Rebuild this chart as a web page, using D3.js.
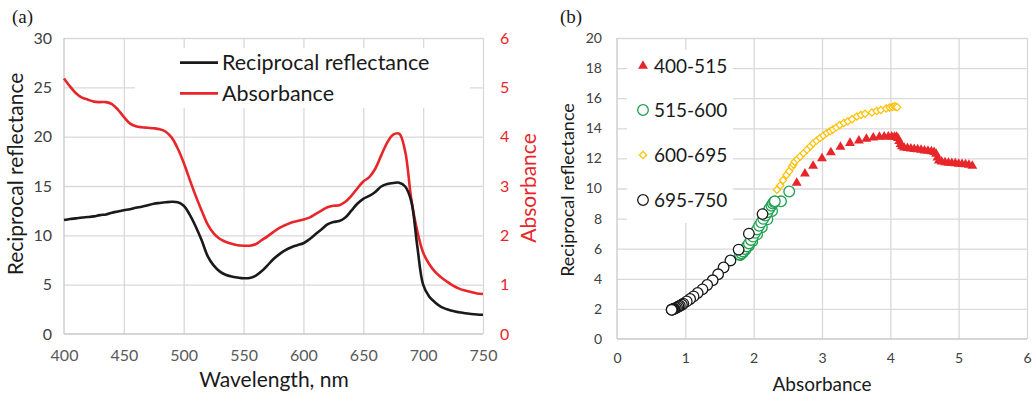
<!DOCTYPE html>
<html><head><meta charset="utf-8">
<script src="https://cdn.jsdelivr.net/npm/d3@7"></script>
<style>body{margin:0;background:#fff} svg{display:block} text{font-family:Lato,"Open Sans",sans-serif}</style>
</head><body><svg id="c" width="1035" height="397"></svg>
<script>
// ---------- Panel (a) data ----------
const wavelength = [400,405,410,415,420,425,430,435,440,445,450,455,460,465,470,475,480,485,490,495,
  500,505,510,515,520,525,530,535,540,545,550,555,560,565,570,575,580,585,590,595,
  600,605,610,615,620,625,630,635,640,645,650,655,660,665,670,675,680,685,690,695,
  700,705,710,715,720,725,730,735,740,745,750];
const reciprocal = [11.55,11.65,11.72,11.8,11.85,11.92,12.05,12.12,12.3,12.42,12.55,12.65,12.8,12.9,13.05,13.2,13.28,13.35,13.4,13.35,
  13.0,12.1,10.9,9.5,7.9,6.95,6.35,6.0,5.82,5.72,5.65,5.67,5.9,6.35,6.95,7.6,8.1,8.5,8.8,9.0,
  9.2,9.6,10.1,10.6,11.1,11.35,11.45,11.8,12.5,13.2,13.7,14.0,14.4,14.95,15.2,15.3,15.33,14.95,13.5,9.0,
  5.0,3.8,3.2,2.75,2.5,2.32,2.2,2.1,2.03,1.98,1.95];
const absorbance = [5.18,5.02,4.88,4.79,4.75,4.71,4.7,4.7,4.66,4.55,4.4,4.27,4.21,4.19,4.18,4.17,4.15,4.1,3.98,3.76,
  3.47,3.13,2.8,2.5,2.22,2.04,1.93,1.87,1.83,1.8,1.79,1.79,1.82,1.9,1.98,2.07,2.15,2.21,2.26,2.29,
  2.32,2.36,2.43,2.5,2.57,2.6,2.61,2.68,2.8,2.95,3.09,3.18,3.35,3.62,3.88,4.04,4.06,3.7,2.75,2.1,
  1.65,1.42,1.26,1.15,1.06,0.98,0.92,0.88,0.85,0.82,0.81];
const xTicksA = [400,450,500,550,600,650,700,750];
const yTicksLeft = [0,5,10,15,20,25,30];
const yTicksRight = [0,1,2,3,4,5,6];
const seriesNamesA = ["Reciprocal reflectance","Absorbance"];

// ---------- Panel (b) data: [absorbance, reciprocal reflectance] ----------
const seriesNamesB = ["400-515","515-600","600-695","695-750"];
const pts400_515 = [[2.63,10.37],[2.75,10.98],[2.87,11.5],[3.0,12.0],[3.13,12.4],[3.27,12.76],[3.41,13.02],[3.54,13.18],[3.65,13.3],[3.75,13.38],
  [3.84,13.42],[3.91,13.44],[3.97,13.45],[4.02,13.44],[4.06,13.43],[4.09,13.42],[4.11,13.35],[4.13,13.15],[4.15,12.95],[4.17,12.8],
  [4.2,12.72],[4.25,12.68],[4.3,12.65],[4.35,12.62],[4.4,12.6],[4.45,12.56],[4.5,12.52],[4.55,12.5],[4.6,12.46],[4.64,12.42],
  [4.67,12.3],[4.69,12.05],[4.71,11.85],[4.75,11.78],[4.8,11.74],[4.85,11.7],[4.9,11.68],[4.95,11.66],[5.0,11.64],[5.05,11.62],
  [5.1,11.6],[5.15,11.56],[5.2,11.5]];
const pts515_600 = [[2.52,9.8],[2.4,9.15],[2.27,8.5],[2.2,7.95],[2.12,7.42],[2.05,6.95],[1.98,6.5],[1.93,6.2],[1.88,5.92],[1.84,5.72],
  [1.81,5.62],[1.8,5.58],[1.8,5.6],[1.82,5.7],[1.84,5.82],[1.87,5.98],[1.9,6.15],[1.93,6.35],[1.96,6.58],[1.99,6.8],
  [2.02,7.05],[2.05,7.28],[2.08,7.52],[2.11,7.75],[2.14,7.98],[2.17,8.2],[2.2,8.42],[2.23,8.65],[2.26,8.85],[2.28,9.0],
  [2.3,9.1],[2.31,9.15]];
const pts600_695 = [[2.34,9.92],[2.39,10.2],[2.43,10.55],[2.48,10.9],[2.52,11.15],[2.56,11.45],[2.58,11.6],[2.6,11.78],[2.64,11.95],[2.68,12.13],
  [2.73,12.35],[2.78,12.58],[2.83,12.8],[2.87,13.0],[2.92,13.18],[2.97,13.35],[3.02,13.52],[3.07,13.68],[3.12,13.8],[3.16,13.92],
  [3.21,14.06],[3.26,14.22],[3.32,14.35],[3.38,14.47],[3.44,14.6],[3.51,14.78],[3.57,14.88],[3.63,14.97],[3.73,15.05],[3.8,15.15],
  [3.86,15.22],[3.94,15.32],[3.99,15.38],[4.03,15.42],[4.06,15.46],[4.08,15.44],[4.1,15.4]];
const pts695_750 = [[2.13,8.3],[1.93,7.0],[1.78,5.94],[1.66,5.22],[1.56,4.75],[1.48,4.3],[1.4,3.9],[1.32,3.59],[1.25,3.3],[1.18,3.06],
  [1.12,2.83],[1.07,2.66],[1.02,2.5],[0.97,2.35],[0.95,2.28],[0.92,2.21],[0.9,2.16],[0.88,2.1],[0.86,2.06],[0.84,2.02],
  [0.83,2.0],[0.82,1.98],[0.81,1.96],[0.8,1.95],[0.8,1.94]];
const xTicksB = [0,1,2,3,4,5,6];
const yTicksB = [0,2,4,6,8,10,12,14,16,18,20];

const RED = "#e8262a", BLACK = "#1a1a1a", GREEN = "#1fa050", GOLD = "#ffc000", GRID = "#d9d9d9";
const fmt = d3.format("d");

const svg = d3.select("#c");

// ================= Panel (a) =================
const xA = d3.scaleLinear().domain([400,750]).range([64,483]);
const yL = d3.scaleLinear().domain([0,30]).range([334,38]);
const yR = d3.scaleLinear().domain([0,6]).range([334,38]);
const gA = svg.append("g");

// grid
gA.append("g").attr("transform","translate(64,0)")
  .call(d3.axisLeft(yL).tickValues(yTicksLeft.slice(1)).tickSize(-(483-64)).tickFormat(""))
  .call(g=>g.select(".domain").remove())
  .call(g=>g.selectAll("line").attr("stroke",GRID).attr("stroke-width",1.3));
gA.append("g").attr("transform","translate(0,334)")
  .call(d3.axisBottom(xA).tickValues(xTicksA.slice(1)).tickSize(-(334-38)).tickFormat(""))
  .call(g=>g.select(".domain").remove())
  .call(g=>g.selectAll("line").attr("stroke",GRID).attr("stroke-width",1.3));
// axis lines
gA.append("line").attr("x1",64).attr("x2",64).attr("y1",38).attr("y2",334).attr("stroke","#c8c8c8").attr("stroke-width",1.3);
gA.append("line").attr("x1",64).attr("x2",483).attr("y1",334).attr("y2",334).attr("stroke","#c8c8c8").attr("stroke-width",1.3);

// tick labels
gA.append("g").attr("transform","translate(64,0)")
  .call(d3.axisLeft(yL).tickValues(yTicksLeft).tickFormat(fmt).tickSize(0).tickPadding(12))
  .call(g=>g.select(".domain").remove())
  .call(g=>g.selectAll("text").attr("fill","#404040").style("font-size","16px"));
gA.append("g").attr("transform","translate(483,0)")
  .call(d3.axisRight(yR).tickValues(yTicksRight).tickFormat(fmt).tickSize(0).tickPadding(17))
  .call(g=>g.select(".domain").remove())
  .call(g=>g.selectAll("text").attr("fill",RED).style("font-size","16px"));
gA.append("g").attr("transform","translate(0,334)")
  .call(d3.axisBottom(xA).tickValues(xTicksA).tickFormat(fmt).tickSize(0).tickPadding(16))
  .call(g=>g.select(".domain").remove())
  .call(g=>g.selectAll("text").attr("fill","#595959").style("font-size","16px"));

// legend box (a)
gA.append("rect").attr("x",135).attr("y",48).attr("width",335).attr("height",60).attr("fill","#fff");

// lines
const lineR = d3.line().x((d,i)=>xA(wavelength[i])).y(d=>yL(d)).curve(d3.curveCatmullRom.alpha(0.5));
const lineA = d3.line().x((d,i)=>xA(wavelength[i])).y(d=>yR(d)).curve(d3.curveCatmullRom.alpha(0.5));
gA.append("path").datum(absorbance).attr("d",lineA).attr("fill","none").attr("stroke",RED).attr("stroke-width",2.6);
gA.append("path").datum(reciprocal).attr("d",lineR).attr("fill","none").attr("stroke",BLACK).attr("stroke-width",2.6);

// legend (a)
[[seriesNamesA[0],BLACK,62.7],[seriesNamesA[1],RED,93.3]].forEach(([t,c,y])=>{
  gA.append("line").attr("x1",180).attr("x2",218).attr("y1",y).attr("y2",y).attr("stroke",c).attr("stroke-width",2.8);
  gA.append("text").attr("x",222).attr("y",y).attr("dy","0.35em").attr("fill",BLACK).style("font-size","21.5px").text(t);
});

// titles (a)
gA.append("text").attr("x",274).attr("y",380).attr("text-anchor","middle").attr("dy","0.35em").attr("fill",BLACK).style("font-size","21px").text("Wavelength, nm");
gA.append("text").attr("transform","translate(16,174) rotate(-90)").attr("text-anchor","middle").attr("dy","0.35em").attr("fill",BLACK).style("font-size","21px").text("Reciprocal reflectance");
gA.append("text").attr("transform","translate(529,188) rotate(-90)").attr("text-anchor","middle").attr("dy","0.35em").attr("fill",RED).style("font-size","21px").text("Absorbance");
gA.append("text").attr("x",12).attr("y",23).style("font-family","'Liberation Serif','DejaVu Serif',serif").style("font-size","19px").attr("fill",BLACK).text("(a)");

// ================= Panel (b) =================
const xB = d3.scaleLinear().domain([0,6]).range([617,1027]);
const yB = d3.scaleLinear().domain([0,20]).range([339,38]);
const gB = svg.append("g");

gB.append("g").attr("transform","translate(617,0)")
  .call(d3.axisLeft(yB).tickValues(yTicksB.slice(1)).tickSize(-(1027-617)).tickFormat(""))
  .call(g=>g.select(".domain").remove())
  .call(g=>g.selectAll("line").attr("stroke",GRID).attr("stroke-width",1.3));
gB.append("g").attr("transform","translate(0,339)")
  .call(d3.axisBottom(xB).tickValues(xTicksB.slice(1)).tickSize(-(339-38)).tickFormat(""))
  .call(g=>g.select(".domain").remove())
  .call(g=>g.selectAll("line").attr("stroke",GRID).attr("stroke-width",1.3));
gB.append("line").attr("x1",617).attr("x2",617).attr("y1",38).attr("y2",339).attr("stroke","#c8c8c8").attr("stroke-width",1.3);
gB.append("line").attr("x1",617).attr("x2",1027).attr("y1",339).attr("y2",339).attr("stroke","#c8c8c8").attr("stroke-width",1.3);

gB.append("g").attr("transform","translate(617,0)")
  .call(d3.axisLeft(yB).tickValues(yTicksB).tickFormat(fmt).tickSize(0).tickPadding(15))
  .call(g=>g.select(".domain").remove())
  .call(g=>g.selectAll("text").attr("fill","#404040").style("font-size","14px"));
gB.append("g").attr("transform","translate(0,339)")
  .call(d3.axisBottom(xB).tickValues(xTicksB).tickFormat(fmt).tickSize(0).tickPadding(14))
  .call(g=>g.select(".domain").remove())
  .call(g=>g.selectAll("text").attr("fill","#404040").style("font-size","14px"));

// legend box (b)
gB.append("rect").attr("x",627).attr("y",50).attr("width",106).attr("height",173).attr("fill","#fff");

const tri = d3.symbol().type(d3.symbolTriangle).size(42);
const sq = d3.symbol().type(d3.symbolSquare).size(26);

gB.append("g").selectAll("path").data(pts400_515).join("path")
  .attr("d",tri).attr("transform",d=>`translate(${xB(d[0])},${yB(d[1])})`).attr("fill",RED);
gB.append("g").selectAll("circle").data(pts515_600).join("circle")
  .attr("cx",d=>xB(d[0])).attr("cy",d=>yB(d[1])).attr("r",5.3).attr("fill","#fff").attr("stroke",GREEN).attr("stroke-width",1.3);
gB.append("g").selectAll("path").data(pts600_695).join("path")
  .attr("d",sq).attr("transform",d=>`translate(${xB(d[0])},${yB(d[1])}) rotate(45)`).attr("fill","#fff").attr("stroke",GOLD).attr("stroke-width",1.2);
gB.append("g").selectAll("circle").data(pts695_750).join("circle")
  .attr("cx",d=>xB(d[0])).attr("cy",d=>yB(d[1])).attr("r",5.3).attr("fill","#fff").attr("stroke",BLACK).attr("stroke-width",1.3);

// legend (b)
const legY = [66,110,155,200];
gB.append("path").attr("d",tri).attr("transform",`translate(643,${legY[0]})`).attr("fill",RED);
gB.append("circle").attr("cx",643).attr("cy",legY[1]).attr("r",5.3).attr("fill","#fff").attr("stroke",GREEN).attr("stroke-width",1.3);
gB.append("path").attr("d",sq).attr("transform",`translate(643,${legY[2]}) rotate(45)`).attr("fill","#fff").attr("stroke",GOLD).attr("stroke-width",1.2);
gB.append("circle").attr("cx",643).attr("cy",legY[3]).attr("r",5.3).attr("fill","#fff").attr("stroke",BLACK).attr("stroke-width",1.3);
seriesNamesB.forEach((t,i)=>{
  gB.append("text").attr("x",654).attr("y",legY[i]).attr("dy","0.35em").attr("fill",BLACK).style("font-size","19px").text(t);
});

gB.append("text").attr("x",822).attr("y",384).attr("text-anchor","middle").attr("dy","0.35em").attr("fill",BLACK).style("font-size","19px").text("Absorbance");
gB.append("text").attr("transform","translate(568,190) rotate(-90)").attr("text-anchor","middle").attr("dy","0.35em").attr("fill",BLACK).style("font-size","18px").text("Reciprocal reflectance");
gB.append("text").attr("x",560).attr("y",23).style("font-family","'Liberation Serif','DejaVu Serif',serif").style("font-size","19px").attr("fill",BLACK).text("(b)");
</script></body></html>
